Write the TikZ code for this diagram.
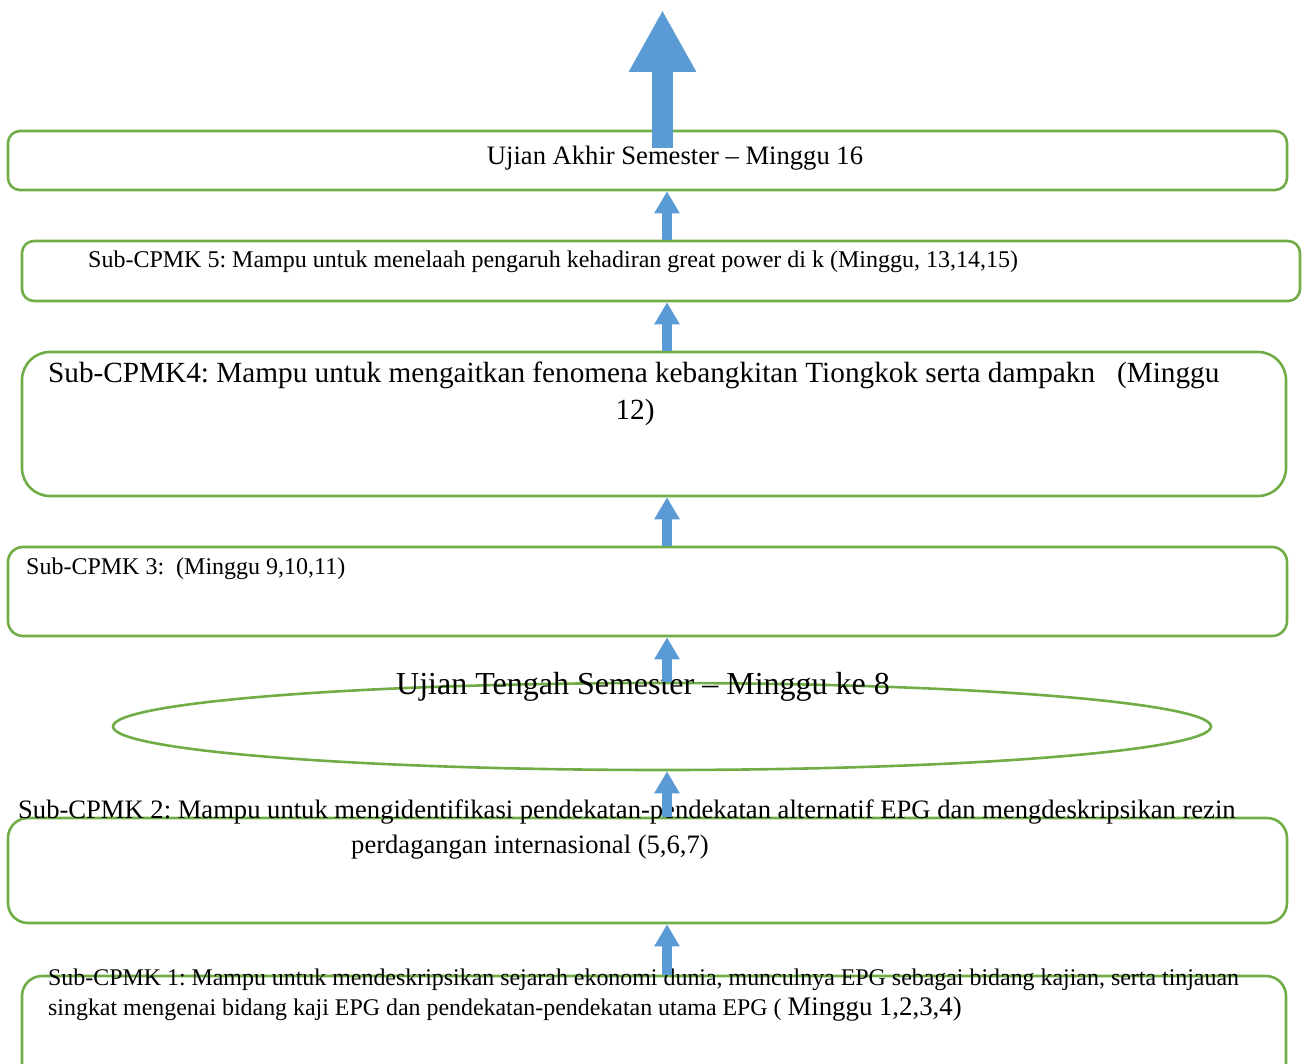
\documentclass[tikz,border=0pt]{standalone}
\usepackage{fontspec}
\setmainfont{Liberation Serif}
\usetikzlibrary{shapes.geometric,arrows.meta}
\definecolor{boxgreen}{HTML}{70AD47}
\definecolor{arrowblue}{HTML}{5B9BD5}
\tikzset{
  greenbox/.style={draw=boxgreen, line width=2.6pt, rectangle, inner sep=0pt, fill=none},
  lbl/.style={inner sep=0pt, text=black},
  uparrow/.style={draw=arrowblue, line width=10pt, -{Triangle[width=24pt,length=22pt]}},
  bigarrow/.style={draw=arrowblue, line width=21pt, -{Triangle[width=63pt,length=62pt]}}
}
\newcommand{\fs}[1]{\fontsize{#1}{#1}\selectfont}
\frenchspacing
\begin{document}
\begin{tikzpicture}[x=1pt,y=-1pt]
\useasboundingbox (0,0) rectangle (1306,1064);
\clip (0,0) rectangle (1306,1064);
% boxes
\node[greenbox, rounded corners=12pt, minimum width=1279pt, minimum height=59pt] (uas) at (647.5,160.5) {};
\node[greenbox, rounded corners=12pt, minimum width=1278pt, minimum height=60pt] (c5) at (661,271) {};
\node[greenbox, rounded corners=28pt, minimum width=1264pt, minimum height=144pt] (c4) at (654,424) {};
\node[greenbox, rounded corners=15pt, minimum width=1279pt, minimum height=89pt] (c3) at (647.5,591.5) {};
\node[draw=boxgreen, line width=2.6pt, ellipse, inner sep=0pt, minimum width=1098pt, minimum height=87pt] (uts) at (662,726.5) {};
\node[greenbox, rounded corners=20pt, minimum width=1279pt, minimum height=105pt] (c2) at (647.5,870.5) {};
\node[greenbox, rounded corners=20pt, minimum width=1264pt, minimum height=110pt] (c1) at (654,1031) {};
% texts
\node[lbl, anchor=base] (tuas) at (675,165) {\fs{26.6}Ujian Akhir Semester – Minggu 16};
\node[lbl, anchor=base west] (t5) at (88,267.5) {\fs{24}Sub-CPMK 5: Mampu untuk menelaah pengaruh kehadiran great power di k (Minggu, 13,14,15)};
\node[lbl, anchor=base west] (t4a) at (48,382.5) {\fs{29.25}Sub-CPMK4: Mampu untuk mengaitkan fenomena kebangkitan Tiongkok serta dampakn \ \ (Minggu};
\node[lbl, anchor=base] (t4b) at (635,419) {\fs{29.25}12)};
\node[lbl, anchor=base west] (t3) at (26,574.5) {\fs{24}Sub-CPMK 3: \ (Minggu 9,10,11)};
\node[lbl, anchor=base] (tuts) at (643,694.5) {\fs{32}Ujian Tengah Semester – Minggu ke 8};
\node[lbl, anchor=base west] (t2a) at (18,818.5) {\fs{26.6}Sub-CPMK 2: Mampu untuk mengidentifikasi pendekatan-pendekatan alternatif EPG dan mengdeskripsikan rezin};
\node[lbl, anchor=base west] (t2b) at (351,853.5) {\fs{26.6}perdagangan internasional (5,6,7)};
\node[lbl, anchor=base west] (t1a) at (48,985.5) {\fs{23.9}Sub-CPMK 1: Mampu untuk mendeskripsikan sejarah ekonomi dunia, munculnya EPG sebagai bidang kajian, serta tinjauan};
\node[lbl, anchor=base west] (t1b) at (48,1015.5) {\fs{23.9}singkat mengenai bidang kaji EPG dan pendekatan-pendekatan utama EPG ( \fs{26.8}Minggu 1,2,3,4)};
% arrows
\coordinate (ax) at (667,0);
\coordinate (bstart) at (662.5,148);
\coordinate (top) at (662.5,10);
\draw[bigarrow] (bstart) -- (top);
\draw[uparrow] (c5.north -| ax) -- (uas.south -| ax);
\draw[uparrow] (c4.north -| ax) -- (c5.south -| ax);
\draw[uparrow] (c3.north -| ax) -- (c4.south -| ax);
\draw[uparrow] (uts.north -| ax) -- (c3.south -| ax);
\draw[uparrow] (c2.north -| ax) -- (uts.south -| ax);
\draw[uparrow] (c1.north -| ax) -- (c2.south -| ax);
\end{tikzpicture}
\end{document}
